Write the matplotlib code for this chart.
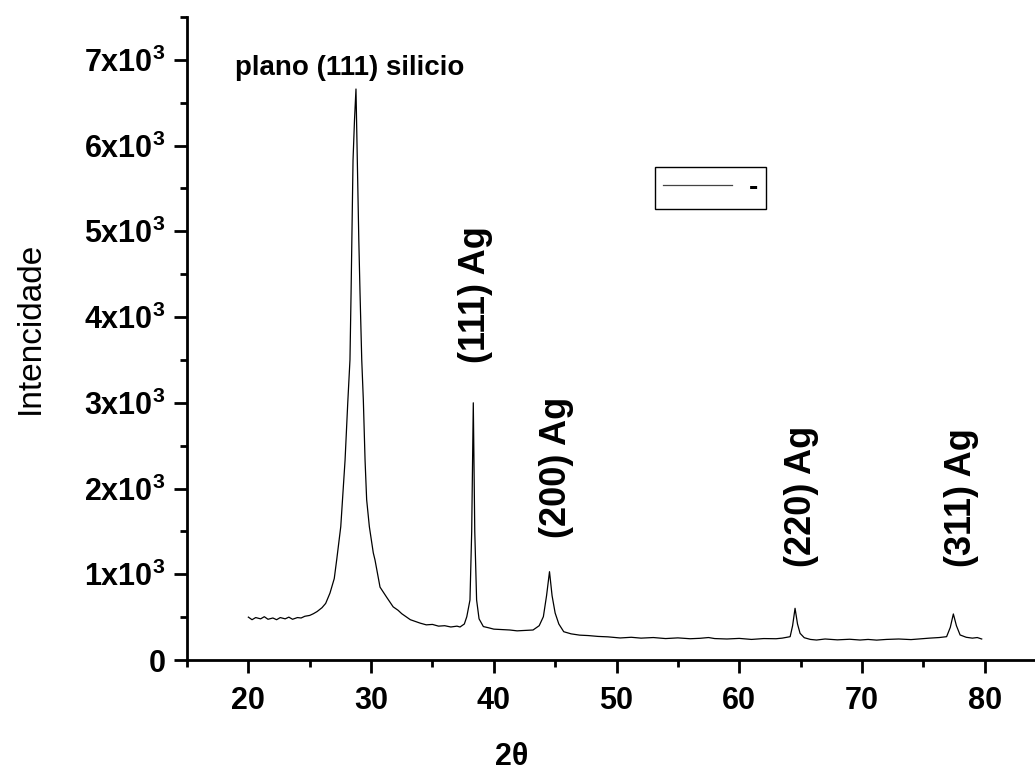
import matplotlib
matplotlib.use('Agg')
import matplotlib.pyplot as plt
from matplotlib.ticker import MultipleLocator, FuncFormatter

plt.rcParams['font.family'] = ['Liberation Sans', 'DejaVu Sans']
plt.rcParams['mathtext.fontset'] = 'custom'
plt.rcParams['mathtext.rm'] = 'Liberation Sans:bold'
plt.rcParams['mathtext.default'] = 'rm'

# XRD pattern (2theta in degrees, counts)
two_theta = [20.0, 20.3, 20.6, 21.0, 21.3, 21.6, 22.0, 22.3, 22.6, 23.0,
             23.3, 23.6, 24.0, 24.3, 24.6, 25.0, 25.3, 25.6, 26.0, 26.3,
             26.65, 27.0, 27.2, 27.53, 27.88, 28.1, 28.28, 28.37, 28.53, 28.65,
             28.77, 28.88, 29.0, 29.1, 29.24, 29.37, 29.51, 29.64, 29.86, 30.18,
             30.32, 30.73, 31.28, 31.8, 32.2, 32.5, 32.9, 33.2, 33.6, 34.0,
             34.5, 35.0, 35.5, 36.0, 36.5, 37.0, 37.25, 37.6, 37.8, 38.06,
             38.2, 38.33, 38.45, 38.6, 38.8, 39.15, 39.6, 40.0, 40.6, 41.3,
             41.9, 42.5, 43.2, 43.7, 44.04, 44.3, 44.54, 44.75, 45.0, 45.3,
             45.7, 46.3, 47.0, 47.7, 48.5, 49.3, 50.3, 51.2, 52.0, 53.0,
             54.0, 55.0, 56.0, 56.8, 57.5, 58.0, 59.0, 60.0, 61.0, 62.0,
             63.0, 63.5, 64.15, 64.35, 64.55, 64.75, 64.96, 65.3, 65.8, 66.3,
             67.0, 68.0, 69.0, 69.85, 70.5, 71.2, 72.0, 73.0, 74.0, 75.0,
             75.5, 76.3, 76.9, 77.2, 77.45, 77.7, 78.0, 78.5, 79.0, 79.4,
             79.76]
intensity = [500, 470, 495, 480, 505, 475, 490, 470, 495, 480,
             500, 475, 495, 490, 510, 520, 540, 565, 610, 660,
             780, 950, 1170, 1555, 2330, 3000, 3500, 4280, 5830, 6300,
             6660, 5830, 4900, 4280, 3500, 3030, 2330, 1870, 1555, 1250,
             1167, 850, 730, 620, 580, 540, 500, 470, 450, 430,
             410, 415, 395, 400, 385, 395, 385, 420, 505, 700,
             1500, 3000, 1500, 700, 480, 390, 375, 360, 355, 350,
             340, 345, 350, 400, 505, 750, 1030, 750, 548, 420,
             330, 305, 290, 285, 275, 270, 257, 265, 255, 262,
             250, 258, 248, 253, 262, 250, 245, 252, 240, 250,
             248, 255, 272, 400, 603, 420, 311, 260, 240, 233,
             245, 235, 242, 233, 240, 232, 240, 245, 238, 250,
             255, 262, 272, 380, 537, 400, 292, 265, 255, 262,
             245]

peak_labels = ['(111) Ag', '(200) Ag', '(220) Ag', '(311) Ag']
peak_label_x = [38.47, 45.07, 65.08, 78.1]
peak_label_y = [3466, 1424, 1085, 1085]

fig = plt.figure(figsize=(10.35, 7.71), dpi=100)
ax = fig.add_axes([187 / 1035, 111 / 771, 859 / 1035, 643 / 771])

ax.plot(two_theta, intensity, color='black', lw=0.9, label='-')

ax.set_xlim(15, 85)
ax.set_ylim(0, 7500)

for side in ['top', 'right']:
    ax.spines[side].set_visible(False)
for side in ['left', 'bottom']:
    ax.spines[side].set_linewidth(2)

ax.xaxis.set_major_locator(MultipleLocator(10))
ax.xaxis.set_minor_locator(MultipleLocator(5))
ax.yaxis.set_major_locator(MultipleLocator(1000))
ax.yaxis.set_minor_locator(MultipleLocator(500))


def ylab(v, pos):
    n = int(round(v / 1000))
    if n == 0:
        return '0'
    return '%dx10$^{3}$' % n


ax.yaxis.set_major_formatter(FuncFormatter(ylab))
ax.xaxis.set_major_formatter(FuncFormatter(lambda v, p: '%d' % v if v >= 20 and v <= 80 else ''))

ax.tick_params(which='major', direction='out', length=9.5, width=2, labelsize=22)
ax.tick_params(axis='x', which='major', pad=9)
ax.tick_params(axis='y', which='major', pad=6)
ax.tick_params(which='minor', direction='out', length=5, width=2)
for lb in ax.get_xticklabels() + ax.get_yticklabels():
    lb.set_fontweight('bold')

ax.set_xlabel('2θ', fontsize=22, fontweight='bold')
ax.xaxis.set_label_coords(0.378, -0.128)
ax.set_ylabel('Intencidade', fontsize=24)
ax.yaxis.set_label_coords(-0.164, 0.516)

ax.text(28.24, 6900, 'plano (111) silicio', fontsize=20, fontweight='bold',
        ha='center', va='center')
for lab, px, py in zip(peak_labels, peak_label_x, peak_label_y):
    ax.text(px, py, lab, rotation=90, fontsize=26, fontweight='bold',
            ha='center', va='bottom')

leg = ax.legend(loc='upper left', bbox_to_anchor=(655 / 1035, 1 - 167 / 771),
                bbox_transform=fig.transFigure, borderaxespad=0,
                prop={'size': 20, 'weight': 'bold'},
                handlelength=2.5, handletextpad=0.6, borderpad=0.28,
                fancybox=False, framealpha=1)
leg.get_frame().set_edgecolor('black')
leg.get_frame().set_linewidth(1)
leg.get_lines()[0].set_color('#444444')

fig.savefig('out.png', dpi=100)
